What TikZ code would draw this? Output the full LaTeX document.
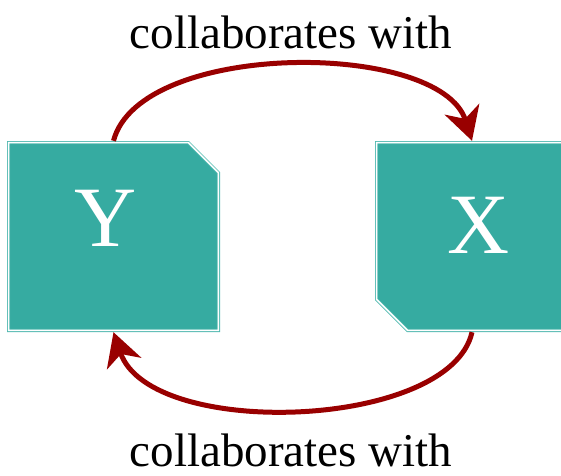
\documentclass[tikz,border=0pt]{standalone}
\usepackage{fontspec}
\setmainfont{Liberation Serif}
\usetikzlibrary{arrows.meta}
\definecolor{tealfill}{HTML}{36ABA1}
\definecolor{tealline}{HTML}{4FB8AF}
\definecolor{arrowred}{HTML}{990000}
\begin{document}
\begin{tikzpicture}[x=1pt,y=-1pt,
  anchorbox/.style={rectangle, draw=none, inner sep=0pt},
  boxshape/.style={draw=tealline, line width=0.8pt, double=white,
    double distance=1.6pt, fill=tealfill, line join=miter},
  lbl/.style={text=white, inner sep=0pt, font=\fontsize{86}{90}\selectfont},
  rel/.style={draw=arrowred, line width=5pt, -{Stealth[length=33pt,width=36pt,inset=10pt]}},
  captext/.style={inner sep=0pt, font=\fontsize{47}{50}\selectfont}]
\useasboundingbox (0,0) rectangle (561,475);
\node[anchorbox, minimum width=213pt, minimum height=191pt] (Y) at (113.5,236.5) {};
\node[anchorbox, minimum width=194pt, minimum height=191pt] (X) at (472,236.5) {};
\path[boxshape] (8.6,142.6) -- (188.3,142.6) -- (218.4,172.7) -- (218.4,330.4) -- (8.6,330.4) -- cycle;
\path[boxshape] (376.6,142.6) -- (567.4,142.6) -- (567.4,330.4) -- (407.6,330.4) -- (376.6,299.4) -- cycle;
\node[lbl] (ly) at (105.5,218.5) {Y};
\node[lbl] (lx) at (479,225.5) {X};
\draw[rel] (Y.north) .. controls (140,40) and (440,40) .. (X.north);
\draw[rel] (X.south) .. controls (450,430) and (150,440) .. (Y.south);
\node[captext, anchor=base] (t1) at (291,48) {collaborates with};
\node[captext, anchor=base] (t2) at (291,466) {collaborates with};
\end{tikzpicture}
\end{document}
